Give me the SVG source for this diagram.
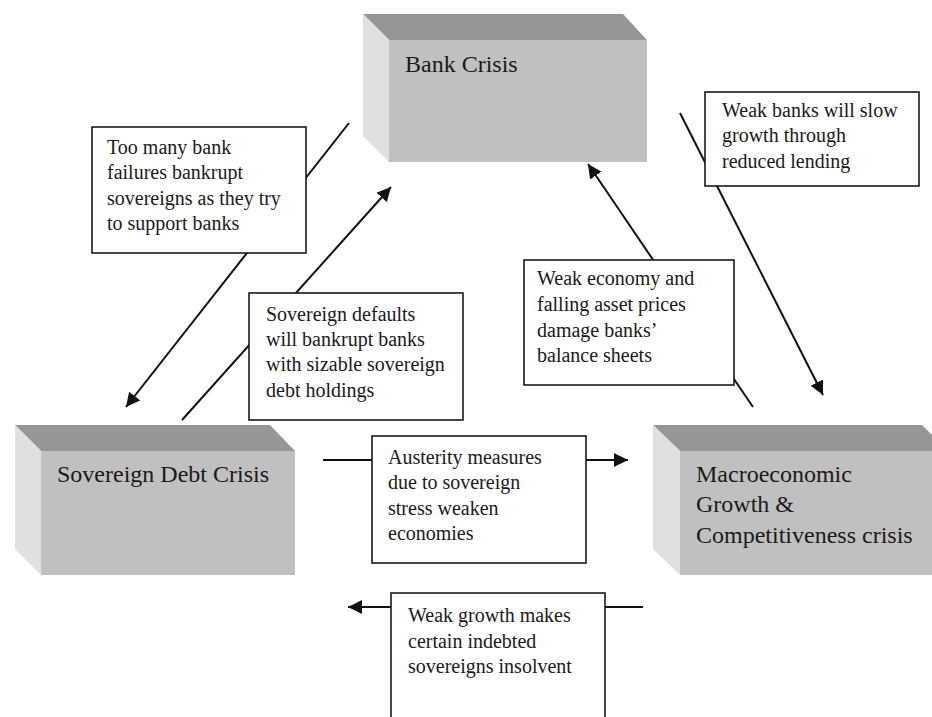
<svg xmlns="http://www.w3.org/2000/svg" width="932" height="717" viewBox="0 0 932 717">
<style>
.front{fill:#c0c0c0}
.top{fill:#969696}
.side{fill:#e0e0e0}
.big{font-family:"Liberation Serif","Times New Roman",serif;font-size:24px;fill:#1a1a1a}
.note{fill:#ffffff;stroke:#1a1a1a;stroke-width:1.6}
.nt{font-family:"Liberation Serif","Times New Roman",serif;font-size:20px;fill:#1a1a1a}
.conn{stroke:#111;stroke-width:2;fill:none}
</style>
<defs>
<marker id="ah" viewBox="0 0 10 10" refX="10" refY="5" markerWidth="7" markerHeight="7" markerUnits="strokeWidth" orient="auto">
<path d="M0,0 L10,5 L0,10 z" fill="#111"/>
</marker>
</defs>
<rect width="932" height="717" fill="#ffffff"/>

<g id="bank-crisis">
<polygon class="top" points="363,14 623,14 647,40 389,40"/>
<polygon class="side" points="363,14 389,40 389,162 363,136"/>
<rect class="front" x="389" y="40" width="258" height="122"/>
<text class="big" x="405" y="72">Bank Crisis</text>
</g>

<g id="sovereign-debt-crisis">
<polygon class="top" points="15,425 270,425 295,451 41,451"/>
<polygon class="side" points="15,425 41,451 41,575 15,549"/>
<rect class="front" x="41" y="451" width="254" height="124"/>
<text class="big" x="57" y="482">Sovereign Debt Crisis</text>
</g>

<g id="macro-crisis">
<polygon class="top" points="653,425 922,425 948,451 680,451"/>
<polygon class="side" points="653,425 680,451 680,575 653,549"/>
<rect class="front" x="680" y="451" width="270" height="124"/>
<text class="big" x="696" y="482">Macroeconomic</text>
<text class="big" x="696" y="512">Growth &amp;</text>
<text class="big" x="696" y="543">Competitiveness crisis</text>
</g>

<g id="connectors">
<line class="conn" x1="349" y1="123" x2="126" y2="407" marker-end="url(#ah)"/>
<line class="conn" x1="182" y1="420" x2="391" y2="187" marker-end="url(#ah)"/>
<line class="conn" x1="753" y1="407" x2="588" y2="164" marker-end="url(#ah)"/>
<line class="conn" x1="680" y1="113" x2="823" y2="395" marker-end="url(#ah)"/>
<line class="conn" x1="323" y1="460" x2="628" y2="460" marker-end="url(#ah)"/>
<line class="conn" x1="643" y1="607" x2="348" y2="607" marker-end="url(#ah)"/>
</g>

<g id="note-bank-failures">
<rect class="note" x="92" y="127" width="214" height="126"/>
<text class="nt" x="107" y="154">Too many bank</text>
<text class="nt" x="107" y="179">failures bankrupt</text>
<text class="nt" x="107" y="205">sovereigns as they try</text>
<text class="nt" x="107" y="230">to support banks</text>
</g>

<g id="note-sovereign-defaults">
<rect class="note" x="249" y="293" width="214" height="127"/>
<text class="nt" x="266" y="321">Sovereign defaults</text>
<text class="nt" x="266" y="346">will bankrupt banks</text>
<text class="nt" x="266" y="371">with sizable sovereign</text>
<text class="nt" x="266" y="397">debt holdings</text>
</g>

<g id="note-weak-economy">
<rect class="note" x="524" y="260" width="210" height="125"/>
<text class="nt" x="537" y="285">Weak economy and</text>
<text class="nt" x="537" y="311">falling asset prices</text>
<text class="nt" x="537" y="337">damage banks’</text>
<text class="nt" x="537" y="362">balance sheets</text>
</g>

<g id="note-weak-banks">
<rect class="note" x="705" y="92" width="214" height="94"/>
<text class="nt" x="722" y="117">Weak banks will slow</text>
<text class="nt" x="722" y="142">growth through</text>
<text class="nt" x="722" y="168">reduced lending</text>
</g>

<g id="note-austerity">
<rect class="note" x="372" y="436" width="214" height="127"/>
<text class="nt" x="388" y="464">Austerity measures</text>
<text class="nt" x="388" y="489">due to sovereign</text>
<text class="nt" x="388" y="515">stress weaken</text>
<text class="nt" x="388" y="540">economies</text>
</g>

<g id="note-weak-growth">
<rect class="note" x="391" y="593" width="214" height="134"/>
<text class="nt" x="408" y="622">Weak growth makes</text>
<text class="nt" x="408" y="648">certain indebted</text>
<text class="nt" x="408" y="673">sovereigns insolvent</text>
</g>
</svg>
